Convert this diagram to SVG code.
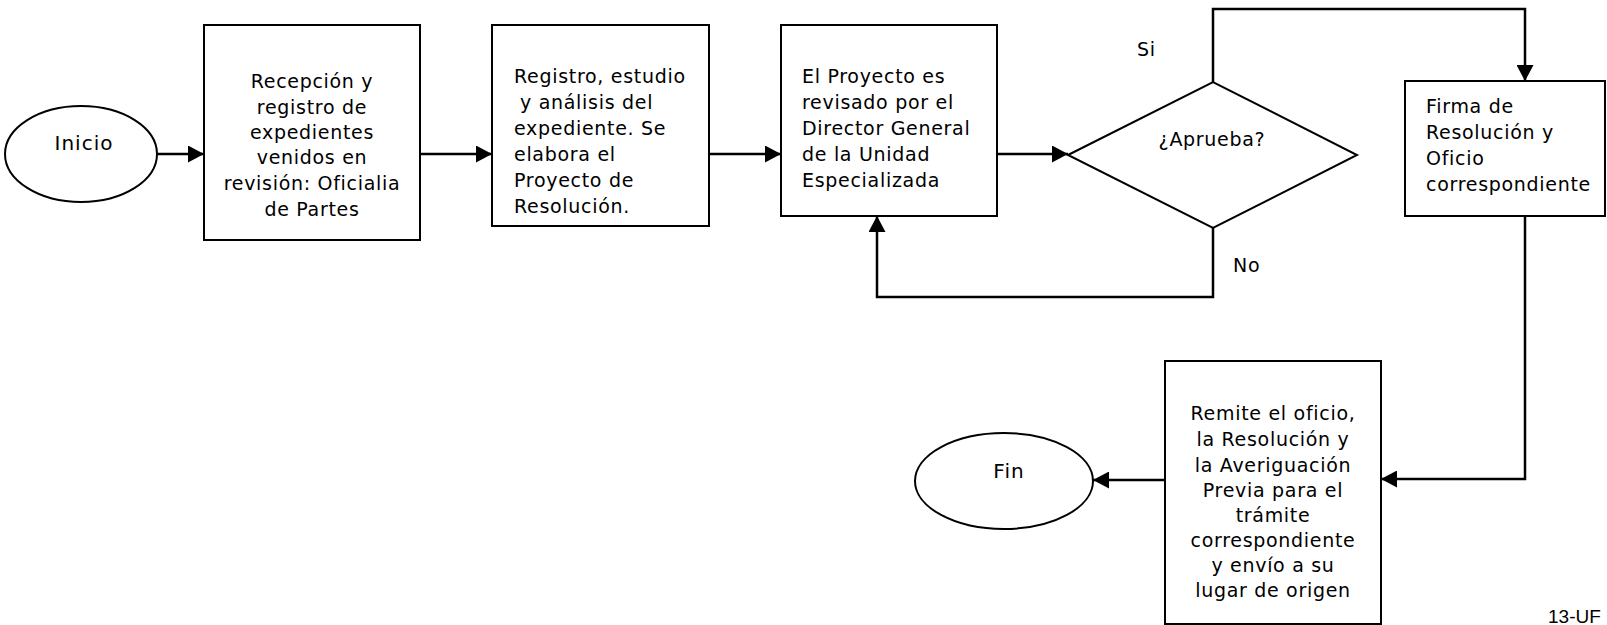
<svg xmlns="http://www.w3.org/2000/svg" width="1607" height="625" viewBox="0 0 1607 625">
<style>
.shape{fill:#fff;stroke:#000;stroke-width:2}
.conn{fill:none;stroke:#000;stroke-width:2.5}
.t{font-family:"DejaVu Sans",sans-serif;font-size:19px;letter-spacing:0.7px;fill:#000}
.c{text-anchor:middle}
.big{font-size:20px;letter-spacing:1px}
</style>
<defs>
<marker id="arr" markerUnits="userSpaceOnUse" markerWidth="17" markerHeight="17" refX="16" refY="8.5" orient="auto">
<path d="M0,0 L16,8.5 L0,17 z" fill="#000"/>
</marker>
</defs>
<rect width="1607" height="625" fill="#fff"/>
<g id="connectors">
<line class="conn" x1="157" y1="154" x2="204" y2="154" marker-end="url(#arr)"/>
<line class="conn" x1="420" y1="154" x2="492" y2="154" marker-end="url(#arr)"/>
<line class="conn" x1="709" y1="154" x2="781" y2="154" marker-end="url(#arr)"/>
<line class="conn" x1="997" y1="154" x2="1068" y2="154" marker-end="url(#arr)"/>
<polyline class="conn" points="1213,82 1213,9 1525,9 1525,81" marker-end="url(#arr)"/>
<polyline class="conn" points="1213,228 1213,297 877,297 877,216" marker-end="url(#arr)"/>
<polyline class="conn" points="1525,216 1525,479 1381,479" marker-end="url(#arr)"/>
<line class="conn" x1="1165" y1="480" x2="1093" y2="480" marker-end="url(#arr)"/>
</g>
<g id="inicio">
<ellipse class="shape" cx="81" cy="154" rx="76" ry="48"/>
<text class="t c big" x="84" y="150">Inicio</text>
</g>
<g id="recepcion">
<rect class="shape" x="204" y="25" width="216" height="215"/>
<text class="t c" x="312" y="88">Recepción y</text>
<text class="t c" x="312" y="114">registro de</text>
<text class="t c" x="312" y="139">expedientes</text>
<text class="t c" x="312" y="164">venidos en</text>
<text class="t c" x="312" y="190">revisión: Oficialia</text>
<text class="t c" x="312" y="216">de Partes</text>
</g>
<g id="registro">
<rect class="shape" x="492" y="25" width="217" height="201"/>
<text class="t" x="514" y="83">Registro, estudio</text>
<text class="t" x="520" y="109">y análisis del</text>
<text class="t" x="514" y="135">expediente. Se</text>
<text class="t" x="514" y="161">elabora el</text>
<text class="t" x="514" y="187">Proyecto de</text>
<text class="t" x="514" y="213">Resolución.</text>
</g>
<g id="revision">
<rect class="shape" x="781" y="25" width="216" height="191"/>
<text class="t" x="802" y="83">El Proyecto es</text>
<text class="t" x="802" y="109">revisado por el</text>
<text class="t" x="802" y="135">Director General</text>
<text class="t" x="802" y="161">de la Unidad</text>
<text class="t" x="802" y="187">Especializada</text>
</g>
<g id="aprueba">
<polygon class="shape" points="1068,155 1213,82 1357,155 1213,228"/>
<text class="t c" x="1212" y="146">¿Aprueba?</text>
</g>
<g id="labels">
<text class="t" x="1137" y="56">Si</text>
<text class="t" x="1233" y="272">No</text>
</g>
<g id="firma">
<rect class="shape" x="1405" y="81" width="200" height="135"/>
<text class="t" x="1426" y="113">Firma de</text>
<text class="t" x="1426" y="139">Resolución y</text>
<text class="t" x="1426" y="165">Oficio</text>
<text class="t" x="1426" y="191">correspondiente</text>
</g>
<g id="remite">
<rect class="shape" x="1165" y="361" width="216" height="263"/>
<text class="t c" x="1273" y="420">Remite el oficio,</text>
<text class="t c" x="1273" y="446">la Resolución y</text>
<text class="t c" x="1273" y="472">la Averiguación</text>
<text class="t c" x="1273" y="497">Previa para el</text>
<text class="t c" x="1273" y="522">trámite</text>
<text class="t c" x="1273" y="547">correspondiente</text>
<text class="t c" x="1273" y="572">y envío a su</text>
<text class="t c" x="1273" y="597">lugar de origen</text>
</g>
<g id="fin">
<ellipse class="shape" cx="1004" cy="481" rx="89" ry="48"/>
<text class="t c big" x="1009" y="478">Fin</text>
</g>
<text x="1548" y="623" font-family="'Liberation Sans',Arial,sans-serif" font-size="19">13-UF</text>
</svg>
